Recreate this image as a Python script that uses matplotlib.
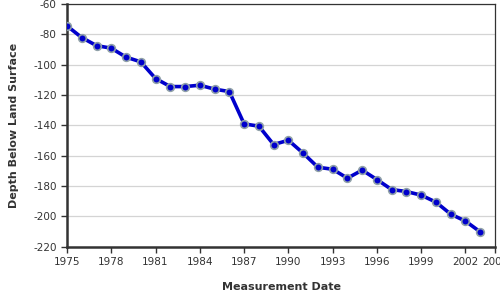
import matplotlib
matplotlib.use("Agg")
import matplotlib.pyplot as plt

plt.rcParams["axes.unicode_minus"] = False

years = [1975, 1976, 1977, 1978, 1979, 1980, 1981, 1982, 1983, 1984,
         1985, 1986, 1987, 1988, 1989, 1990, 1991, 1992, 1993, 1994,
         1995, 1996, 1997, 1998, 1999, 2000, 2001, 2002, 2003]
depth = [-74.5, -82.2, -87.5, -89.2, -95.1, -98.2, -109.2, -114.5, -114.5, -113.6,
         -116.2, -117.8, -139.1, -140.6, -152.7, -149.9, -158.4, -167.7, -169.0, -174.9,
         -169.6, -175.8, -182.4, -183.7, -186.1, -190.7, -198.6, -203.2, -210.3]
xticks = [1975, 1978, 1981, 1984, 1987, 1990, 1993, 1996, 1999, 2002, 2004]
yticks = [-60, -80, -100, -120, -140, -160, -180, -200, -220]

txt = "#333333"
fig = plt.figure(figsize=(5, 3), dpi=100)
ax = fig.add_axes([0.134, 0.178, 0.856, 0.809])

ax.plot(years, depth, color="#0000cc", lw=2.6, marker="o", ms=5.5,
        mfc="#0000cc", mec="#8fa0a8", mew=1.2, zorder=3)

ax.set_xlim(1975, 2004)
ax.set_ylim(-220, -60)
ax.set_xticks(xticks)
ax.set_yticks(yticks)
ax.grid(axis="y", color="#d4d4d4", lw=0.9)
ax.set_axisbelow(True)

for s in ["left", "bottom"]:
    ax.spines[s].set_linewidth(1.8)
    ax.spines[s].set_color(txt)
for s in ["top", "right"]:
    ax.spines[s].set_linewidth(0.9)
    ax.spines[s].set_color(txt)

ax.tick_params(axis="both", labelsize=7.5, colors=txt, length=4, width=1)
ax.tick_params(top=False, right=False)
ax.set_xlabel("Measurement Date", fontsize=8, fontweight="bold", color=txt, labelpad=11)
ax.set_ylabel("Depth Below Land Surface", fontsize=8, fontweight="bold", color=txt, labelpad=10)

fig.savefig("out.png", dpi=100)
